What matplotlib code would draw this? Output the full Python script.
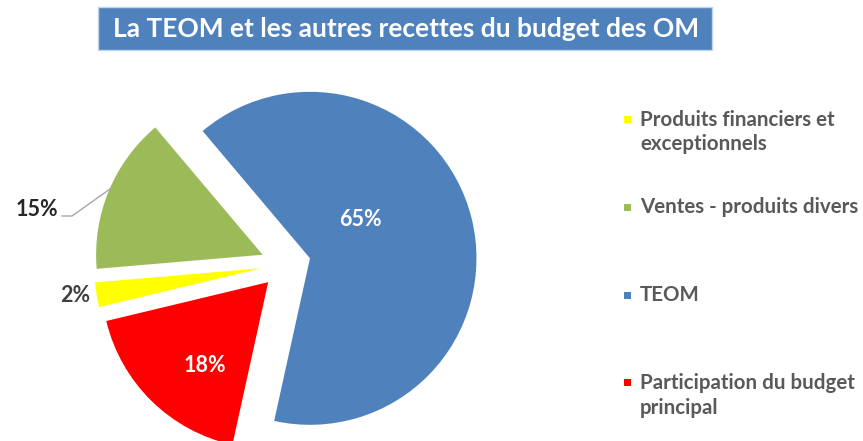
import matplotlib
matplotlib.use("Agg")
import matplotlib.pyplot as plt
from matplotlib.patches import Rectangle

plt.rcParams['font.family'] = ['Lato', 'DejaVu Sans']

# data (Excel order, drawn clockwise)
categories = ["Produits financiers et\nexceptionnels",
              "Ventes - produits divers",
              "TEOM",
              "Participation du budget\nprincipal"]
values = [2.4, 15.2, 64.6, 17.8]
pct_labels = ["2%", "15%", "65%", "18%"]
colors = ["#FFFF00", "#9BBB59", "#4F81BD", "#FF0000"]
title = "La TEOM et les autres recettes du budget des OM"

W, H = 863, 441
R = 166.5

fig = plt.figure(figsize=(W / 100, H / 100), dpi=100)
ax = fig.add_axes([0, 0, 1, 1])

# explode is in data units here (pixels), not a fraction of the radius
wedges, _ = ax.pie(
    values,
    colors=colors,
    explode=[25] * len(values),
    startangle=193.5,
    counterclock=False,
    radius=R,
    center=(285.7, H - 264.3),
    wedgeprops=dict(linewidth=0),
)
ax.set_xlim(0, W)
ax.set_ylim(0, H)
ax.set_aspect('equal')
ax.axis('off')

# percentage labels (pixel positions from the reference, y down)
label_pos = [(75, 295), (37, 210), (360, 220), (205, 365)]
label_col = ["#404040", "#262626", "white", "white"]
for txt, (px, py), c in zip(pct_labels, label_pos, label_col):
    ax.text(px, H - py, txt, ha='center', va='center', fontsize=15.5,
            fontweight='bold', color=c)

# leader line for 15%
ax.plot([62, 72, 110], [H - 216, H - 216, H - 189], color="#A6A6A6", lw=1)

# title box
ax.add_patch(Rectangle((98, H - 50), 614, 43, facecolor="#4F81BD",
                       edgecolor="#C5D3E8", lw=1))
ax.text(406, H - 29, title, ha='center', va='center', fontsize=19,
        fontweight='bold', color='white')

# legend, drawn by hand
y0, step = 119.7, 87.7
for i, (cat, c) in enumerate(zip(categories, colors)):
    yc = y0 + i * step
    ax.add_patch(Rectangle((624, H - yc - 3.5), 7, 7, facecolor=c, lw=0))
    ax.text(640, H - yc + 10, cat, ha='left', va='top', fontsize=14.8,
            fontweight='bold', color="#595959", linespacing=1.3)

fig.savefig("out.png", dpi=100)
